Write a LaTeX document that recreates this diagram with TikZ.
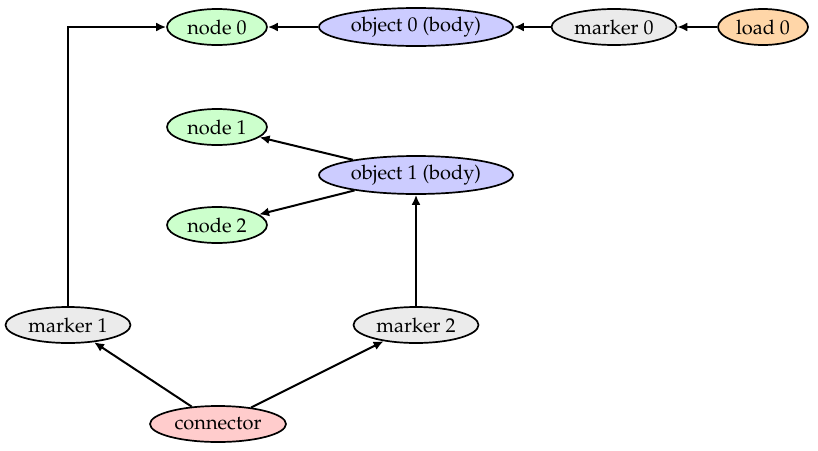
\documentclass[tikz,border=0pt]{standalone}
\usepackage[T1]{fontenc}
\usepackage{mathpazo}
\usetikzlibrary{shapes.geometric,arrows.meta}
\definecolor{nodecol}{HTML}{CCFFCC}
\definecolor{bodycol}{HTML}{CCCCFF}
\definecolor{markcol}{HTML}{EBEBEB}
\definecolor{loadcol}{HTML}{FFD6A8}
\definecolor{conncol}{HTML}{FFCCCC}
\tikzset{
  elt/.style={ellipse, draw=black, line width=0.85pt, inner sep=0pt, minimum height=18pt},
  nodeelt/.style={elt, fill=nodecol, minimum width=50pt},
  bodyelt/.style={elt, fill=bodycol, minimum width=97pt, minimum height=19pt},
  markelt/.style={elt, fill=markcol, minimum width=62.5pt},
  loadelt/.style={elt, fill=loadcol, minimum width=45pt},
  connelt/.style={elt, fill=conncol, minimum width=68pt},
  link/.style={line width=1pt, -{Latex[length=5pt,width=4.5pt]}}
}
\begin{document}
\begin{tikzpicture}[x=0.5pt,y=-0.5pt]
  \useasboundingbox (0,0) rectangle (818,450);

  \node[nodeelt] (n0) at (217, 27) {node 0};
  \node[bodyelt] (b0) at (416, 27) {object 0 (body)};
  \node[markelt] (m0) at (614, 27) {marker 0};
  \node[loadelt] (l0) at (763, 27) {load 0};

  \node[nodeelt] (n1) at (217, 127) {node 1};
  \node[bodyelt] (b1) at (416, 175) {object 1 (body)};
  \node[nodeelt] (n2) at (217, 225) {node 2};

  \node[markelt] (m1) at (68, 325) {marker 1};
  \node[markelt] (m2) at (416, 325) {marker 2};
  \node[connelt] (c) at (218, 424) {connector};

  % chaine du haut
  \draw[link] (l0) -- (m0);
  \draw[link] (m0) -- (b0);
  \draw[link] (b0) -- (n0);

  \draw[link] (b1) -- (n1);
  \draw[link] (b1) -- (n2);

  \draw[link] (m1) |- (n0);
  \draw[link] (m2) -- (b1);
  \draw[link] (c) -- (m1);
  \draw[link] (c) -- (m2);

\end{tikzpicture}
\end{document}
